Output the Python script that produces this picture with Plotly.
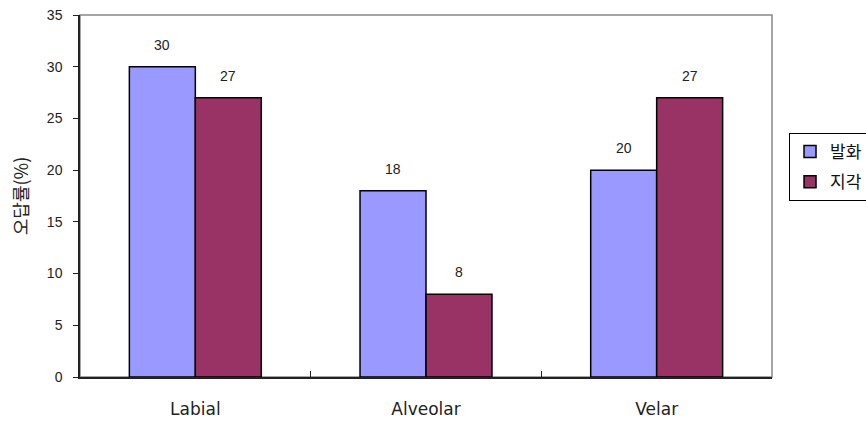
import plotly.graph_objects as go

# Error rates by place of articulation
categories = ["Labial", "Alveolar", "Velar"]
speech = [30, 18, 20]       # 발화
perception = [27, 8, 27]    # 지각
series_names = ["발화", "지각"]
y_ticks = [0, 5, 10, 15, 20, 25, 30, 35]

blue = "#9999FF"
plum = "#993366"
font_family = "Liberation Sans, Arial, Noto Sans CJK KR, sans-serif"
kr_family = "Noto Sans CJK KR, sans-serif"

fig = go.Figure()
fig.add_trace(go.Bar(x=categories, y=speech, name=series_names[0], legendgroup="a",
                     marker=dict(color=blue, line=dict(color="black", width=1.5))))
fig.add_trace(go.Bar(x=categories, y=perception, name=series_names[1], legendgroup="b",
                     marker=dict(color=plum, line=dict(color="black", width=1.5))))

# value labels above each bar
annotations = []
for cat, v in zip(categories, speech):
    annotations.append(dict(x=cat, y=v, xref="x", yref="y", text=str(v), showarrow=False,
                            xshift=-33, yshift=12, yanchor="bottom",
                            font=dict(size=14, color="#222", family=font_family)))
for cat, v in zip(categories, perception):
    annotations.append(dict(x=cat, y=v, xref="x", yref="y", text=str(v), showarrow=False,
                            xshift=33, yshift=12, yanchor="bottom",
                            font=dict(size=14, color="#222", family=font_family)))

fig.update_layout(
    width=866, height=421,
    margin=dict(l=80, r=94, t=15, b=44, autoexpand=False),
    paper_bgcolor="white", plot_bgcolor="white",
    barmode="group", bargap=0.428, bargroupgap=0,
    font=dict(family=font_family, size=14, color="#222"),
    annotations=annotations,
    showlegend=True,
    legend=dict(x=1.0246, y=0.58, xanchor="left", yanchor="middle",
                bordercolor="black", borderwidth=1, bgcolor="white",
                font=dict(size=17, family=kr_family, color="#111"),
                itemwidth=30, tracegroupgap=5),
    shapes=[dict(type="rect", xref="paper", yref="paper", x0=0, y0=0, x1=1, y1=1,
                 line=dict(color="#888", width=1.5), layer="below")],
    xaxis=dict(
        showline=True, linecolor="#222", linewidth=1.5,
        ticks="inside", tickson="boundaries", ticklen=6, tickcolor="#222",
        showgrid=False, ticklabelstandoff=16,
        tickfont=dict(size=17, family="DejaVu Sans, sans-serif", color="#222"),
    ),
    yaxis=dict(
        range=[0, 35], tickvals=y_ticks, showline=True, linecolor="#222", linewidth=1.5,
        ticks="outside", ticklen=5, tickcolor="#222", showgrid=False, zeroline=False,
        ticklabelstandoff=8,
        tickfont=dict(size=14, family=font_family, color="#222"),
        title=dict(text="오답률(%)", standoff=14,
                   font=dict(size=18, family=kr_family, color="#222")),
    ),
)

fig.write_html("out.html")
